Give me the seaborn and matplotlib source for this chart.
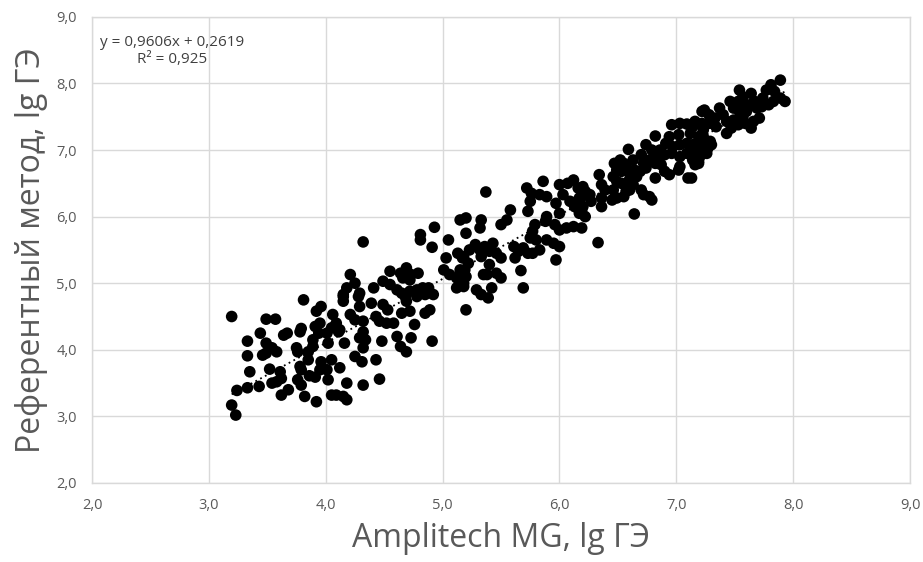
import matplotlib
matplotlib.use("Agg")
import matplotlib.pyplot as plt
import numpy as np
import pandas as pd
import seaborn as sns

amp_low = [3.195, 3.81, 3.49, 3.57, 3.44, 3.33, 3.64, 3.67, 3.78, 3.79, 3.49, 3.54, 3.58, 3.33, 3.46,
           3.49, 3.75, 3.76, 3.35, 3.52, 3.61, 3.62, 3.78, 3.79, 3.85, 3.24, 3.33, 3.43, 3.54, 3.58,
           3.62, 3.68, 3.76, 3.79, 3.82, 3.92, 3.195, 3.23, 3.86, 3.91, 3.95, 4.02, 3.89, 3.94, 3.91,
           3.95, 3.92, 3.96, 4.06, 4.09, 4.12, 4.01, 4.02, 3.89, 3.85, 3.96, 4.01, 4.05, 4.12, 4.05,
           4.09, 4.15, 4.18, 4.15, 4.18, 4.16]
ref_low = [4.50, 4.75, 4.46, 4.46, 4.25, 4.13, 4.22, 4.25, 4.27, 4.32, 4.10, 4.03, 3.97, 3.91, 3.92,
           3.95, 4.03, 3.97, 3.67, 3.71, 3.67, 3.57, 3.75, 3.70, 3.85, 3.39, 3.43, 3.45, 3.50, 3.52,
           3.32, 3.40, 3.55, 3.47, 3.30, 3.22, 3.17, 3.02, 3.61, 3.59, 3.70, 3.55, 4.15, 4.25, 4.35,
           4.40, 4.58, 4.65, 4.53, 4.40, 4.30, 4.25, 4.10, 4.05, 3.97, 3.82, 3.70, 3.85, 3.73, 3.32,
           3.32, 3.30, 3.25, 4.80, 3.50, 4.10]

amp_mid = [4.32, 4.81, 4.81, 4.93, 4.91, 5.05, 5.13, 5.17, 5.03, 5.01, 5.06, 5.12, 5.12, 5.18, 5.20,
           4.55, 4.64, 4.69, 4.73, 4.79, 4.66, 4.72, 4.21, 4.18, 4.15, 4.15, 4.25, 4.29, 4.28, 4.41,
           4.49, 4.55, 4.61, 4.65, 4.68, 4.72, 4.78, 4.83, 4.88, 4.92, 4.69, 4.78, 4.85, 4.29, 4.39,
           4.49, 4.53, 4.65, 4.72, 4.85, 4.89, 4.43, 4.46, 4.52, 4.58, 4.76, 4.21, 4.25, 4.32, 4.32,
           4.29, 4.34, 4.32, 4.48, 4.61, 4.64, 4.69, 4.73, 4.91, 4.25, 4.31, 4.43, 4.32, 4.46, 4.05,
           4.11]
ref_mid = [5.62, 5.73, 5.65, 5.84, 5.54, 5.65, 5.45, 5.38, 5.38, 5.20, 5.13, 5.08, 4.93, 4.95, 4.60,
           5.18, 5.15, 5.23, 5.13, 5.15, 5.08, 5.05, 5.13, 4.93, 4.83, 4.73, 5.00, 4.85, 4.80, 4.93,
           5.03, 4.98, 4.90, 4.85, 4.80, 4.88, 4.90, 4.93, 4.93, 4.83, 4.73, 4.80, 4.83, 4.65, 4.70,
           4.68, 4.60, 4.55, 4.58, 4.55, 4.60, 4.50, 4.43, 4.40, 4.40, 4.38, 4.53, 4.45, 4.43, 4.27,
           4.18, 4.15, 4.03, 4.13, 4.20, 4.05, 3.97, 4.18, 4.13, 3.90, 3.82, 3.85, 3.47, 3.56, 4.33,
           4.27]

amp_upper = [5.37, 5.86, 5.72, 5.76, 5.83, 5.89, 6.00, 6.07, 6.12, 6.16, 6.03, 6.09, 6.17, 6.22, 5.75,
             5.73, 5.89, 5.88, 5.97, 6.00, 6.13, 6.17, 6.22, 5.96, 6.00, 6.06, 6.12, 6.19, 5.58, 5.55,
             5.50, 5.33, 5.32, 5.20, 5.79, 5.77, 5.75, 5.80, 5.89, 5.95, 6.00, 5.61, 5.65, 5.69, 5.73,
             5.77, 5.83, 5.62, 5.97, 5.28, 5.32, 5.36, 5.40, 5.43, 5.46, 5.50, 5.23, 5.18, 5.22, 5.19,
             5.33, 5.40, 5.38, 5.46, 5.50, 5.35, 5.67, 5.15, 5.20, 5.18, 5.29, 5.33, 5.39, 5.42, 5.69,
             5.15, 5.20]
ref_upper = [6.37, 6.53, 6.43, 6.35, 6.33, 6.30, 6.48, 6.50, 6.55, 6.43, 6.33, 6.23, 6.28, 6.35, 6.23,
             6.08, 6.00, 5.93, 6.20, 6.05, 6.15, 6.05, 6.00, 5.88, 5.80, 5.83, 5.85, 5.83, 6.10, 5.95,
             5.88, 5.95, 5.83, 5.75, 5.88, 5.78, 5.68, 5.65, 5.65, 5.60, 5.55, 5.55, 5.48, 5.53, 5.45,
             5.45, 5.50, 5.38, 5.35, 5.58, 5.50, 5.55, 5.48, 5.60, 5.45, 5.38, 5.50, 5.40, 5.30, 5.20,
             5.40, 5.28, 5.13, 5.15, 5.08, 5.13, 5.19, 5.20, 5.10, 5.00, 4.90, 4.83, 4.78, 4.93, 4.93,
             5.95, 5.98]

amp_high = [6.59, 6.82, 6.96, 7.03, 7.09, 7.16, 7.22, 6.94, 7.02, 7.12, 7.19, 6.91, 6.97, 7.03, 7.09,
            7.16, 7.23, 7.26, 7.20, 6.86, 6.90, 6.96, 7.03, 7.09, 7.14, 7.19, 6.74, 6.79, 6.83, 6.77,
            6.82, 6.87, 6.70, 6.72, 6.69, 6.74, 6.63, 6.64, 6.60, 6.66, 6.52, 6.55, 6.47, 6.49, 6.53,
            6.57, 6.82, 6.90, 6.94, 7.02, 7.03, 7.10, 6.34, 6.36, 6.39, 6.46, 6.49, 6.53, 6.59, 6.63,
            6.60, 6.46, 6.49, 6.55, 6.57, 6.70, 6.72, 6.77, 6.79, 6.20, 6.22, 6.19, 6.26, 6.27, 6.20,
            6.19, 6.36, 6.36, 6.45, 6.64, 6.33]
ref_high = [7.01, 7.21, 7.38, 7.40, 7.39, 7.40, 7.58, 7.20, 7.23, 7.25, 7.20, 7.10, 7.05, 7.08, 7.10,
            7.05, 7.08, 6.95, 6.90, 7.00, 6.93, 6.95, 6.90, 6.95, 6.85, 6.80, 7.08, 7.00, 6.90, 6.85,
            6.80, 6.78, 6.93, 6.80, 6.68, 6.73, 6.85, 6.70, 6.65, 6.60, 6.85, 6.80, 6.80, 6.70, 6.68,
            6.73, 6.58, 6.68, 6.63, 6.70, 6.75, 6.58, 6.63, 6.48, 6.40, 6.60, 6.53, 6.50, 6.53, 6.48,
            6.40, 6.40, 6.28, 6.30, 6.38, 6.40, 6.33, 6.30, 6.25, 6.45, 6.38, 6.30, 6.33, 6.23, 6.15,
            6.08, 6.28, 6.15, 6.25, 6.04, 5.61]

amp_top = [7.89, 7.81, 7.77, 7.84, 7.93, 7.89, 7.83, 7.74, 7.79, 7.73, 7.64, 7.67, 7.63, 7.69, 7.71,
           7.54, 7.57, 7.53, 7.59, 7.46, 7.49, 7.54, 7.60, 7.57, 7.64, 7.66, 7.37, 7.40, 7.43, 7.49,
           7.53, 7.59, 7.24, 7.28, 7.33, 7.28, 7.34, 7.43, 7.47, 7.16, 7.22, 7.14, 7.23, 7.23, 7.29,
           7.27, 7.30, 7.14, 7.19, 7.17, 7.13, 7.16, 7.19, 7.13]
ref_top = [8.05, 7.98, 7.90, 7.88, 7.73, 7.78, 7.73, 7.78, 7.68, 7.65, 7.85, 7.73, 7.68, 7.63, 7.48,
           7.90, 7.80, 7.73, 7.68, 7.73, 7.63, 7.58, 7.58, 7.50, 7.33, 7.43, 7.63, 7.53, 7.43, 7.45,
           7.38, 7.40, 7.60, 7.53, 7.48, 7.40, 7.35, 7.25, 7.33, 7.43, 7.40, 7.35, 7.30, 7.20, 7.13,
           7.03, 7.08, 7.08, 6.98, 6.88, 6.95, 6.78, 6.83, 6.58]

slope, intercept = 0.9606, 0.2619
r_squared = "0,925"
tick_values = [2, 3, 4, 5, 6, 7, 8, 9]
tick_labels = ["2,0", "3,0", "4,0", "5,0", "6,0", "7,0", "8,0", "9,0"]

df = pd.DataFrame({
    "amplitech": amp_low + amp_mid + amp_upper + amp_high + amp_top,
    "reference": ref_low + ref_mid + ref_upper + ref_high + ref_top,
})

sns.set_theme(style="whitegrid")
plt.rcParams["font.family"] = ["Open Sans", "DejaVu Sans"]

grey = "#595959"
fig, ax = plt.subplots(figsize=(9.23, 5.62), dpi=100)
fig.subplots_adjust(left=0.0997, right=0.986, top=0.970, bottom=0.1406)

sns.scatterplot(data=df, x="amplitech", y="reference", color="black",
                s=70, edgecolor="none", ax=ax, zorder=3)

# линия тренда
xs = np.array([df["amplitech"].min(), df["amplitech"].max()])
ax.plot(xs, slope * xs + intercept, color="black", ls=(0, (1, 2)), lw=1.3, zorder=4)

ax.set_xlim(2, 9)
ax.set_ylim(2, 9)
ax.set_xticks(tick_values)
ax.set_xticklabels(tick_labels)
ax.set_yticks(tick_values)
ax.set_yticklabels(tick_labels)
ax.grid(True, color="#d9d9d9", lw=1)
for sp in ax.spines.values():
    sp.set_color("#d9d9d9")
    sp.set_linewidth(1)
ax.tick_params(colors=grey, labelsize=10.5, length=0)
ax.tick_params(axis="x", pad=11)
ax.tick_params(axis="y", pad=11)

ax.set_xlabel("Amplitech MG, lg ГЭ", fontsize=23, color=grey, labelpad=6)
ax.set_ylabel("Референтный метод, lg ГЭ", fontsize=23, color=grey, labelpad=6)

ax.text(2.07, 8.49, "y = 0,9606x + 0,2619\nR² = " + r_squared, ha="left", va="center",
        multialignment="center", fontsize=11, color="#404040", linespacing=1.15)

fig.savefig("out.png", dpi=100)
